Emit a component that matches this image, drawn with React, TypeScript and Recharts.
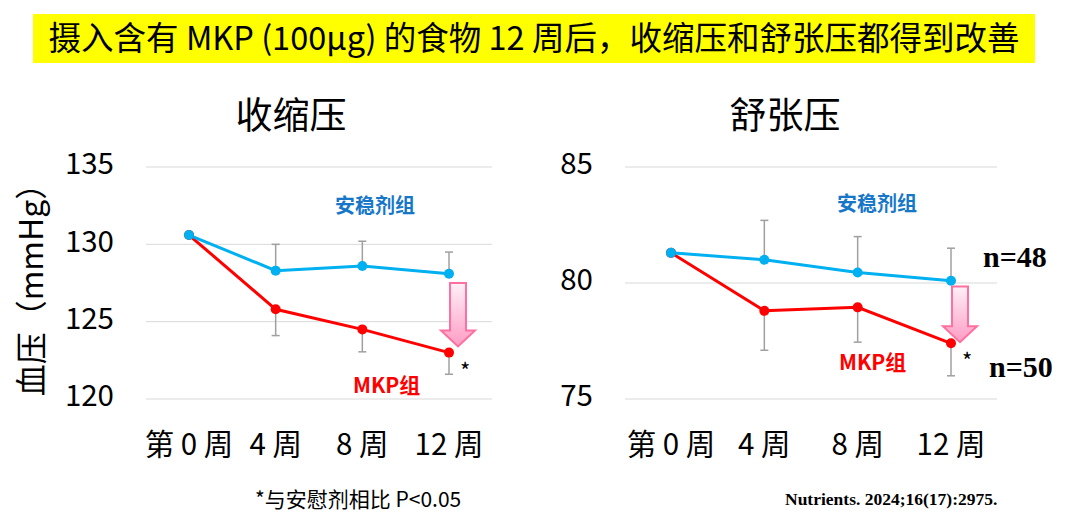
import React from "react";
import {
  LineChart,
  Line,
  XAxis,
  YAxis,
  CartesianGrid,
  ErrorBar,
  ReferenceLine,
  ReferenceDot,
} from "recharts";

const SANS = '"Noto Sans CJK SC", "Noto Sans", sans-serif';
const SERIF = '"Liberation Serif", "Times New Roman", serif';

const PLACEBO_COLOR = "#00b0f0";
const MKP_COLOR = "#ff0000";

// weeks on the x axis
const weeks = ["第 0 周", "4 周", "8 周", "12 周"];

// systolic (收缩压)
const sysPlacebo = [130.6, 128.3, 128.6, 128.1];
const sysPlaceboSd = [0, 1.7, 1.6, 1.4];
const sysMkp = [130.6, 125.8, 124.5, 123.0];
const sysMkpSd = [0, 1.7, 1.45, 1.4];
const sysTicks = [120, 125, 130, 135];
const sysArrow = [127.5, 123.4];

// diastolic (舒张压)
const diaPlacebo = [81.3, 81.0, 80.45, 80.1];
const diaPlaceboSd = [0, 1.7, 1.55, 1.4];
const diaMkp = [81.3, 78.8, 78.95, 77.4];
const diaMkpSd = [0, 1.7, 1.5, 1.4];
const diaTicks = [75, 80, 85];
const diaArrow = [79.85, 77.45];

const buildRows = (placebo: number[], placeboSd: number[], mkp: number[], mkpSd: number[]) =>
  weeks.map((week, i) => ({
    week,
    placebo: placebo[i],
    mkp: mkp[i],
    placeboErr: [0, placeboSd[i]],
    mkpErr: [mkpSd[i], 0],
  }));

const sysData = buildRows(sysPlacebo, sysPlaceboSd, sysMkp, sysMkpSd);
const diaData = buildRows(diaPlacebo, diaPlaceboSd, diaMkp, diaMkpSd);

const makeArrow = (id: string) => (props: any) => {
  const { x1, y1, y2 } = props;
  const cx = x1 + 9;
  const headTop = y2 - 16;
  const pts = [
    [cx - 8, y1],
    [cx + 8, y1],
    [cx + 8, headTop],
    [cx + 17, headTop],
    [cx, y2],
    [cx - 17, headTop],
    [cx - 8, headTop],
  ]
    .map((p) => p.join(","))
    .join(" ");
  return (
    <g>
      <defs>
        <linearGradient id={id} x1="0" y1="0" x2="0" y2="1">
          <stop offset="0%" stopColor="#fff0f7" />
          <stop offset="100%" stopColor="#ff9cc4" />
        </linearGradient>
      </defs>
      <polygon points={pts} fill={`url(#${id})`} stroke="#ff6f9f" strokeWidth={2} />
    </g>
  );
};

const starShape = (props: any) => (
  <text x={props.cx + 11} y={props.cy + 26} fontSize={22} fontFamily={SANS} fill="#000">
    *
  </text>
);

type PanelProps = {
  data: any[];
  ticks: number[];
  arrow: number[];
  rightMargin: number;
  axisWidth: number;
  pad: number;
  id: string;
};

const Panel = ({ data, ticks, arrow, rightMargin, axisWidth, pad, id }: PanelProps) => {
  const last = data[data.length - 1];
  return (
    <LineChart
      width={540}
      height={340}
      data={data}
      margin={{ top: 37, right: rightMargin, left: 0, bottom: 11 }}
    >
      <CartesianGrid vertical={false} stroke="#d9d9d9" strokeWidth={1} />
      <XAxis
        dataKey="week"
        axisLine={false}
        tickLine={false}
        tickSize={0}
        tickMargin={35}
        height={60}
        padding={{ left: pad, right: pad }}
        interval={0}
        tick={{ fill: "#000", fontSize: 29.5, fontFamily: SANS }}
      />
      <YAxis
        domain={[ticks[0], ticks[ticks.length - 1]]}
        ticks={ticks}
        width={axisWidth}
        axisLine={false}
        tickLine={false}
        tickSize={0}
        tickMargin={32}
        tick={{ fill: "#000", fontSize: 29.5, fontFamily: SANS, dy: -3 }}
      />
      <Line
        dataKey="mkp"
        stroke={MKP_COLOR}
        strokeWidth={3}
        dot={{ r: 5, fill: MKP_COLOR, stroke: MKP_COLOR, strokeWidth: 0 }}
        activeDot={false}
        isAnimationActive={false}
      >
        <ErrorBar dataKey="mkpErr" direction="y" width={4} stroke="#a0a0a0" strokeWidth={1.5} isAnimationActive={false} />
      </Line>
      <Line
        dataKey="placebo"
        stroke={PLACEBO_COLOR}
        strokeWidth={3}
        dot={{ r: 5, fill: PLACEBO_COLOR, stroke: PLACEBO_COLOR, strokeWidth: 0 }}
        activeDot={false}
        isAnimationActive={false}
      >
        <ErrorBar dataKey="placeboErr" direction="y" width={4} stroke="#a0a0a0" strokeWidth={1.5} isAnimationActive={false} />
      </Line>
      <ReferenceLine
        segment={[
          { x: last.week, y: arrow[0] },
          { x: last.week, y: arrow[1] },
        ]}
        shape={makeArrow(id)}
      />
      <ReferenceDot x={last.week} y={last.mkp} r={0} shape={starShape} />
    </LineChart>
  );
};

export default function App() {
  return (
    <div
      style={{
        position: "absolute",
        left: 0,
        top: 0,
        width: 1080,
        height: 525,
        background: "#fff",
        overflow: "hidden",
      }}
    >
      <div style={{ position: "absolute", left: 0, top: 130 }}>
        <Panel data={sysData} ticks={sysTicks} arrow={sysArrow} rightMargin={48} axisWidth={146} pad={43} id="arrowSys" />
      </div>
      <div style={{ position: "absolute", left: 540, top: 130 }}>
        <Panel data={diaData} ticks={diaTicks} arrow={diaArrow} rightMargin={83} axisWidth={85} pad={46} id="arrowDia" />
      </div>
      <svg
        width={1080}
        height={525}
        style={{ position: "absolute", left: 0, top: 0, pointerEvents: "none" }}
      >
        <rect x={33} y={14} width={1002} height={49} fill="#ffff00" />
        <text x={534} y={50} textAnchor="middle" fontSize={32.5} fontFamily={SANS} fill="#000">
          摄入含有 MKP (100μg) 的食物 12 周后，收缩压和舒张压都得到改善
        </text>

        <text x={291} y={129} textAnchor="middle" fontSize={37} fontFamily={SANS} fill="#000">
          收缩压
        </text>
        <text x={785} y={129} textAnchor="middle" fontSize={37} fontFamily={SANS} fill="#000">
          舒张压
        </text>

        <text
          transform="translate(29,282) rotate(-90)"
          textAnchor="middle"
          dominantBaseline="central"
          fontSize={32}
          fontFamily={SANS}
          fill="#000"
        >
          血压（mmHg）
        </text>

        <text x={335} y={213} fontSize={20} fontWeight={700} fontFamily={SANS} fill="#1677c9">
          安稳剂组
        </text>
        <text x={353} y={393} fontSize={21} fontWeight={700} fontFamily={SANS} fill={MKP_COLOR}>
          MKP组
        </text>
        <text x={837} y={211} fontSize={20} fontWeight={700} fontFamily={SANS} fill="#1677c9">
          安稳剂组
        </text>
        <text x={839} y={370} fontSize={21} fontWeight={700} fontFamily={SANS} fill={MKP_COLOR}>
          MKP组
        </text>

        <text x={983} y={267} fontSize={30} fontWeight={700} fontFamily={SERIF} fill="#000">
          n=48
        </text>
        <text x={989} y={377} fontSize={30} fontWeight={700} fontFamily={SERIF} fill="#000">
          n=50
        </text>

        <text x={255} y={507} fontSize={21} fontFamily={SANS} fill="#000">
          *与安慰剂相比 P&lt;0.05
        </text>
        <text x={785} y={505} fontSize={17.5} fontWeight={700} fontFamily={SERIF} fill="#000">
          Nutrients. 2024;16(17):2975.
        </text>
      </svg>
    </div>
  );
}
